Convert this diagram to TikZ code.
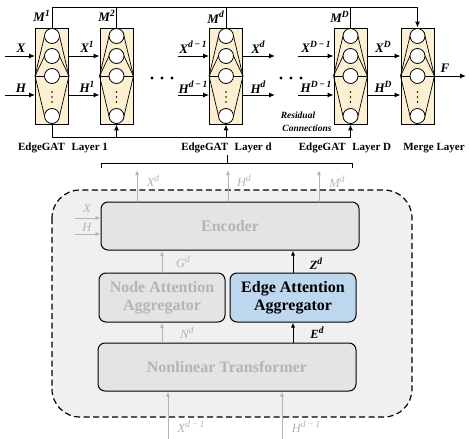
\documentclass[tikz,border=0pt]{standalone}
\usepackage{fontspec}
\setmainfont{Liberation Serif}
\usetikzlibrary{arrows.meta,calc}
\definecolor{layerfill}{HTML}{FCEFD2}
\definecolor{panelfill}{HTML}{F0F0F0}
\definecolor{blockfill}{HTML}{E4E4E4}
\definecolor{edgefill}{HTML}{BDD7EE}
\definecolor{dimtext}{HTML}{B4B4B4}
% symbol with a raised index
\newcommand{\sv}[2]{#1\raisebox{0.42em}{\fontsize{9.5}{9.5}\selectfont #2}}
\newcommand{\mn}{\,\char"2212\,}

\tikzset{
  layerbox/.style={draw, fill=layerfill, line width=0.9pt, minimum width=33pt, minimum height=96pt, inner sep=0pt},
  neuron/.style={circle, draw, fill=white, line width=0.8pt, minimum size=15pt, inner sep=0pt},
  fanline/.style={line width=0.7pt},
  arr/.style={-{Latex[length=6pt,width=5pt]}, line width=1pt},
  garr/.style={-{Latex[length=5pt,width=4pt]}, line width=1pt, draw=dimtext},
  lab/.style={font=\fontsize{13}{13}\selectfont\bfseries\itshape, inner sep=0pt},
  glab/.style={font=\fontsize{12.5}{12.5}\selectfont\itshape, text=dimtext, inner sep=0pt},
  layername/.style={font=\fontsize{11}{11}\selectfont\bfseries, inner sep=0pt},
  block/.style={draw, rounded corners=7pt, fill=blockfill, line width=1pt, text=dimtext,
    font=\fontsize{16}{18}\selectfont\bfseries, align=center, inner sep=0pt},
}

\begin{document}
\begin{tikzpicture}[x=1pt, y=-1pt]
\useasboundingbox (0,0) rectangle (469,439);

% ---------- stacked EdgeGAT layers and merge layer ----------
\foreach \n/\x in {L1/52, L2/116.5, Ld/226, LD/350.5, LM/417.5} {
  \node[layerbox] (\n) at (\x,76) {};
  \draw[fanline] (\n.west) -- (\n.east);
  \foreach \y in {36,56,116} {
    \draw[fanline] (\n.west) -- (\x-7.5,\y);
    \draw[fanline] (\n.east) -- (\x+7.5,\y);
  }
  \foreach \y/\k in {36/1,56/2,76/3,116/4}
    \node[neuron] (\n-\k) at (\x,\y) {};
  \foreach \y in {92,97,102}
    \fill (\x,\y) circle (0.8);
}

% rows and buses
\coordinate (rowX) at (0,56);
\coordinate (rowH) at (0,95);
\coordinate (bus) at (0,7);
\coordinate (rbus) at (0,137);

% inputs of the first layer
\coordinate (inX) at (5,56);
\coordinate (inH) at (5,95);
\draw[arr] (inX) -- (inX -| L1.west);
\draw[arr] (inH) -- (inH -| L1.west);
\node[lab] at (21,48) {X};
\node[lab] at (21,88) {H};

% layer 1 -> layer 2
\draw[arr] (L1.east |- rowX) -- (L2.west |- rowX);
\draw[arr] (L1.east |- rowH) -- (L2.west |- rowH);
\node[lab] at (87,47) {\sv{X}{1}};
\node[lab] at (87,87) {\sv{H}{1}};

% ellipsis dots
\foreach \x in {152,162,172,281,291,301}
  \fill (\x,78) circle (1.6);

% into layer d
\coordinate (dX) at (178,56);
\coordinate (dH) at (178,95);
\draw[arr] (dX) -- (dX -| Ld.west);
\draw[arr] (dH) -- (dH -| Ld.west);
\node[lab] at (193,47) {\sv{X}{d\mn1}};
\node[lab] at (193,87) {\sv{H}{d\mn1}};

% out of layer d
\coordinate (dXo) at (275,56);
\coordinate (dHo) at (275,95);
\draw[arr] (Ld.east |- rowX) -- (dXo);
\draw[arr] (Ld.east |- rowH) -- (dHo);
\node[lab] at (258,47) {\sv{X}{d}};
\node[lab] at (258,87) {\sv{H}{d}};

% into layer D
\coordinate (DX) at (298,56);
\coordinate (DH) at (298,95);
\draw[arr] (DX) -- (DX -| LD.west);
\draw[arr] (DH) -- (DH -| LD.west);
\node[lab] at (316,47) {\sv{X}{D\mn1}};
\node[lab] at (316,87) {\sv{H}{D\mn1}};

% layer D -> merge layer
\draw[arr] (LD.east |- rowX) -- (LM.west |- rowX);
\draw[arr] (LD.east |- rowH) -- (LM.west |- rowH);
\node[lab] at (383,47) {\sv{X}{D}};
\node[lab] at (383,87) {\sv{H}{D}};

% output
\coordinate (outF) at (466,76);
\draw[arr] (LM.east) -- (outF);
\node[lab] at (445,68) {F};

% top bus carrying the M outputs to the merge layer
\draw[line width=1pt] (L1.north) -- (L1.north |- bus) -- (LM.north |- bus);
\draw[arr] (LM.north |- bus) -- (LM.north);
\foreach \n in {L2,Ld,LD}
  \draw[line width=1pt] (\n.north) -- (\n.north |- bus);
\node[lab, anchor=east] at (50,16) {\sv{M}{1}};
\node[lab, anchor=east] at (115,16) {\sv{M}{2}};
\node[lab, anchor=east] at (224,17) {\sv{M}{d}};
\node[lab, anchor=east] at (349,17) {\sv{M}{D}};

% residual connections
\draw[line width=1pt] (L1.south) -- (L1.south |- rbus) -- (LD.south |- rbus);
\draw[arr] (LD.south |- rbus) -- (LD.south);
\draw[arr] (L2.south |- rbus) -- (L2.south);
\draw[arr] (Ld.south |- rbus) -- (Ld.south);
\node[font=\fontsize{9.5}{9.5}\selectfont\bfseries\itshape, inner sep=0pt] at (298,115) {Residual};
\node[font=\fontsize{9.5}{9.5}\selectfont\bfseries\itshape, inner sep=0pt] at (307,128) {Connections};

% layer names
\node[layername] (lab1) at (63,148) {EdgeGAT\hspace{0.6em}Layer 1};
\node[layername] (labd) at (226.5,148) {EdgeGAT\hspace{0.6em}Layer d};
\node[layername] (labD) at (345,148) {EdgeGAT\hspace{0.6em}Layer D};
\node[layername] (labM) at (434,148) {Merge Layer};

% brace pointing at layer d
\coordinate (brL) at (101,163);
\coordinate (brR) at (352,163);
\draw[line width=1pt] ($(brL)+(0,5)$) -- (brL) -- (brR) -- ($(brR)+(0,5)$);
\draw[line width=1pt] (227,163) -- (227,155);

% ---------- inside of one EdgeGAT layer ----------
\draw[dashed, dash pattern=on 6pt off 3.5pt, line width=1.2pt, fill=panelfill, rounded corners=28pt]
  (52,190) rectangle (412,417);

\node[block, minimum width=258pt, minimum height=48pt] (enc) at (230,226) {Encoder};
\node[block, minimum width=126pt, minimum height=49pt] (nagg) at (162,297.5) {Node Attention\\Aggregator};
\node[block, minimum width=126pt, minimum height=49pt, fill=edgefill, text=black] (eagg) at (293,297.5) {Edge Attention\\Aggregator};
\node[block, minimum width=258pt, minimum height=48pt] (nlt) at (227,367) {Nonlinear Transformer};

% encoder outputs
\coordinate (oX) at (137,170);
\coordinate (oH) at (228,170);
\coordinate (oM) at (319,170);
\draw[garr] (oX |- enc.north) -- (oX);
\draw[garr] (oH |- enc.north) -- (oH);
\draw[garr] (oM |- enc.north) -- (oM);
\node[glab] at (153,181) {\sv{X}{d}};
\node[glab] at (244,181) {\sv{H}{d}};
\node[glab] at (337,182) {\sv{M}{d}};

% encoder inputs
\coordinate (eX) at (75,218);
\coordinate (eH) at (75,234);
\draw[garr, line width=0.9pt] (eX) -- (eX -| enc.west);
\draw[garr, line width=0.9pt] (eH) -- (eH -| enc.west);
\node[glab] at (87,208) {X};
\node[glab] at (87,227) {H};

% aggregators -> encoder
\draw[garr] (nagg.north) -- (enc.south -| nagg.north);
\node[glab] at (183,262) {\sv{G}{d}};
\draw[arr, -{Latex[length=5pt,width=4pt]}] (eagg.north) -- (enc.south -| eagg.north);
\node[lab, font=\fontsize{12.5}{12.5}\selectfont\bfseries\itshape] at (316,264) {\sv{Z}{d}};

% transformer -> aggregators
\draw[garr] (nlt.north -| nagg.south) -- (nagg.south);
\node[glab] at (187,333) {\sv{N}{d}};
\draw[arr, -{Latex[length=5pt,width=4pt]}] (nlt.north -| eagg.south) -- (eagg.south);
\node[lab, font=\fontsize{12.5}{12.5}\selectfont\bfseries\itshape] at (317,333) {\sv{E}{d}};

% inputs of the transformer
\coordinate (bX) at (168,439);
\coordinate (bH) at (282,439);
\draw[garr] (bX) -- (bX |- nlt.south);
\draw[garr] (bH) -- (bH |- nlt.south);
\node[glab] at (191,427) {\sv{X}{d\mn1}};
\node[glab] at (306,427) {\sv{H}{d\mn1}};
\end{tikzpicture}
\end{document}
